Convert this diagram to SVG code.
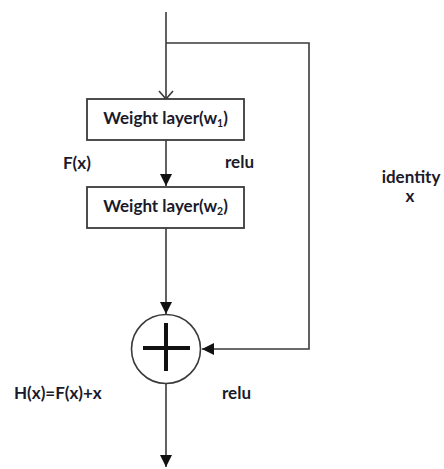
<svg xmlns="http://www.w3.org/2000/svg" width="444" height="469" viewBox="0 0 444 469">
<defs>
<style>
.ln{fill:none;stroke:#3a3a3a;stroke-width:1.6}
.box{fill:#fff;stroke:#3a3a3a;stroke-width:1.8}
.t{font-family:Lato,"Liberation Sans",sans-serif;font-weight:bold;font-size:17px;fill:#1a1a2a}
.sub{font-size:10.5px}
</style>
<marker id="fa" viewBox="0 0 12 12" refX="12" refY="6" markerWidth="12" markerHeight="12" markerUnits="userSpaceOnUse" orient="auto">
<path d="M0,0 L12,6 L0,12 Z" fill="#111"/>
</marker>
<marker id="oa" viewBox="0 0 10 16" refX="9" refY="8" markerWidth="10" markerHeight="16" markerUnits="userSpaceOnUse" orient="auto">
<path d="M1,1 L9,8 L1,15" fill="none" stroke="#3a3a3a" stroke-width="1.6"/>
</marker>
</defs>
<g id="connectors">
<line class="ln" x1="166" y1="12" x2="166" y2="99" marker-end="url(#oa)"/>
<polyline class="ln" points="166,43 309,43 309,349 202,349" marker-end="url(#fa)"/>
<line class="ln" x1="166" y1="140" x2="166" y2="186" marker-end="url(#fa)"/>
<line class="ln" x1="166" y1="228" x2="166" y2="314" marker-end="url(#fa)"/>
<line class="ln" x1="166" y1="384" x2="166" y2="467" marker-end="url(#fa)"/>
</g>
<g id="weight1">
<rect class="box" x="87" y="99" width="157" height="41"/>
<text class="t" x="165.5" y="124" text-anchor="middle">Weight layer(w<tspan class="sub" dy="3">1</tspan><tspan dy="-3">)</tspan></text>
</g>
<g id="weight2">
<rect class="box" x="87" y="187" width="157" height="41"/>
<text class="t" x="165.5" y="212" text-anchor="middle">Weight layer(w<tspan class="sub" dy="3">2</tspan><tspan dy="-3">)</tspan></text>
</g>
<g id="sum">
<circle cx="166" cy="349" r="34.5" fill="#fff" stroke="#3a3a3a" stroke-width="1.6"/>
<path d="M143,348 H190 M166,323 V371" stroke="#111" stroke-width="4" fill="none"/>
</g>
<g id="labels">
<text class="t" x="63" y="169">F(x)</text>
<text class="t" x="225" y="168">relu</text>
<text class="t" x="411" y="183" text-anchor="middle">identity</text>
<text class="t" x="410" y="202" text-anchor="middle">x</text>
<text class="t" x="14" y="399">H(x)=F(x)+x</text>
<text class="t" x="222" y="399">relu</text>
</g>
</svg>
